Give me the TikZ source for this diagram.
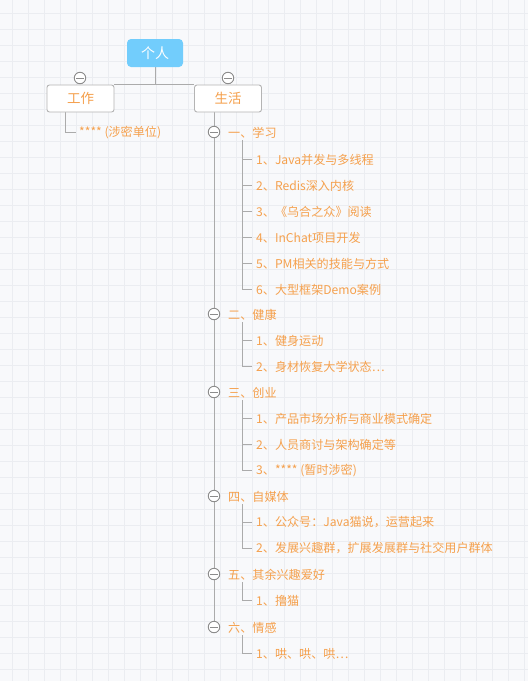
\documentclass[tikz,border=0pt]{standalone}
\usepackage{fontspec}
\setmainfont{Noto Sans CJK SC}
\usepackage{tikz}
\definecolor{paper}{HTML}{F8F9FB}
\definecolor{gridline}{HTML}{EBEDF1}
\definecolor{mindorange}{HTML}{F5A04C}
\definecolor{rootblue}{HTML}{72CDFC}
\definecolor{linegray}{HTML}{ABABAB}
\definecolor{boxgray}{HTML}{B4B4B4}
\definecolor{foldgray}{HTML}{8C8C8C}
\pgfdeclarelayer{grid}
\pgfdeclarelayer{lines}
\pgfsetlayers{grid,lines,main}

\begin{document}
\begin{tikzpicture}[x=1pt,y=-1pt,
  root node/.style={fill=rootblue,rounded corners=4pt,minimum width=56pt,minimum height=28pt,
    text=white,font=\fontsize{14}{14}\selectfont},
  topic node/.style={draw=boxgray,fill=white,rounded corners=2.5pt,line width=0.9pt,
    minimum width=67pt,minimum height=27pt,text=mindorange,font=\fontsize{13.5}{13.5}\selectfont},
  fold/.style={circle,draw=foldgray,fill=white,line width=0.9pt,inner sep=0pt,minimum size=11.5pt,
    path picture={\draw[foldgray,line width=0.9pt]
      ([xshift=-3.8pt]path picture bounding box.center) -- ([xshift=3.8pt]path picture bounding box.center);}},
  leaf/.style={anchor=west,inner sep=2pt,text=mindorange,font=\fontsize{12.1}{12.1}\selectfont},
  branch/.style={draw=linegray,line width=0.9pt,shorten >=2pt}]
  \useasboundingbox (0,0) rectangle (528,681);
  \begin{pgfonlayer}{grid}
    \fill[paper] (0,0) rectangle (528,681);
    \foreach \gx in {12,28,...,524} \draw[gridline,line width=1pt] (\gx,0) -- (\gx,681);
    \foreach \gy in {13.3,29.3,...,680} \draw[gridline,line width=1pt] (0,\gy) -- (528,\gy);
  \end{pgfonlayer}

  \node[root node] (me) at (155,53) {个人};
  \node[topic node] (work) at (80.5,98.5) {工作};
  \node[topic node] (life) at (228,98.5) {生活};
  \node[fold] (fw) at (80,78) {};
  \node[fold] (fl) at (228,78) {};
  \node[leaf] (w1) at (77,132.5) {**** (涉密单位)};

  \node[fold] (f1) at (214,132) {};
  \node[fold] (f2) at (214,314) {};
  \node[fold] (f3) at (214,392) {};
  \node[fold] (f4) at (214,496) {};
  \node[fold] (f5) at (214,574) {};
  \node[fold] (f6) at (214,627) {};
  \node[leaf] (s1) at (226,132.5) {一、学习};
  \node[leaf] (s2) at (226,314.5) {二、健康};
  \node[leaf] (s3) at (226,392.5) {三、创业};
  \node[leaf] (s4) at (226,496.5) {四、自媒体};
  \node[leaf] (s5) at (226,574.5) {五、其余兴趣爱好};
  \node[leaf] (s6) at (226,627.5) {六、情感};

  \node[leaf] (i11) at (254,159.5) {1、Java并发与多线程};
  \node[leaf] (i12) at (254,185.5) {2、Redis深入内核};
  \node[leaf] (i13) at (254,211.5) {3、《乌合之众》阅读};
  \node[leaf] (i14) at (254,237.5) {4、InChat项目开发};
  \node[leaf] (i15) at (254,263.5) {5、PM相关的技能与方式};
  \node[leaf] (i16) at (254,289.5) {6、大型框架Demo案例};
  \node[leaf] (i21) at (254,340.5) {1、健身运动};
  \node[leaf] (i22) at (254,366.5) {2、身材恢复大学状态⋯};
  \node[leaf] (i31) at (254,418.5) {1、产品市场分析与商业模式确定};
  \node[leaf] (i32) at (254,444.5) {2、人员商讨与架构确定等};
  \node[leaf] (i33) at (254,470.5) {3、**** (暂时涉密)};
  \node[leaf] (i41) at (254,522.5) {1、公众号：Java猫说，运营起来};
  \node[leaf] (i42) at (254,548.5) {2、发展兴趣群，扩展发展群与社交用户群体};
  \node[leaf] (i51) at (254,600.5) {1、撸猫};
  \node[leaf] (i61) at (254,653.5) {1、哄、哄、哄⋯};

  \begin{pgfonlayer}{lines}
    \draw[branch,shorten >=0pt] (me.south) -- (me.south |- work.north);
    \draw[branch,shorten >=0pt] (work.north east) -- (life.north west);
    \draw[branch,shorten >=1pt] ([xshift=19pt]work.south west) |- (w1.west);
    \draw[branch,shorten >=0pt] (life.south -| f1) -- (f6);
    \draw[branch] ([xshift=16pt]s1.south west) |- (i11.west);
    \draw[branch] ([xshift=16pt]s1.south west) |- (i12.west);
    \draw[branch] ([xshift=16pt]s1.south west) |- (i13.west);
    \draw[branch] ([xshift=16pt]s1.south west) |- (i14.west);
    \draw[branch] ([xshift=16pt]s1.south west) |- (i15.west);
    \draw[branch] ([xshift=16pt]s1.south west) |- (i16.west);
    \draw[branch] ([xshift=16pt]s2.south west) |- (i21.west);
    \draw[branch] ([xshift=16pt]s2.south west) |- (i22.west);
    \draw[branch] ([xshift=16pt]s3.south west) |- (i31.west);
    \draw[branch] ([xshift=16pt]s3.south west) |- (i32.west);
    \draw[branch] ([xshift=16pt]s3.south west) |- (i33.west);
    \draw[branch] ([xshift=16pt]s4.south west) |- (i41.west);
    \draw[branch] ([xshift=16pt]s4.south west) |- (i42.west);
    \draw[branch] ([xshift=16pt]s5.south west) |- (i51.west);
    \draw[branch] ([xshift=16pt]s6.south west) |- (i61.west);
  \end{pgfonlayer}
\end{tikzpicture}
\end{document}
